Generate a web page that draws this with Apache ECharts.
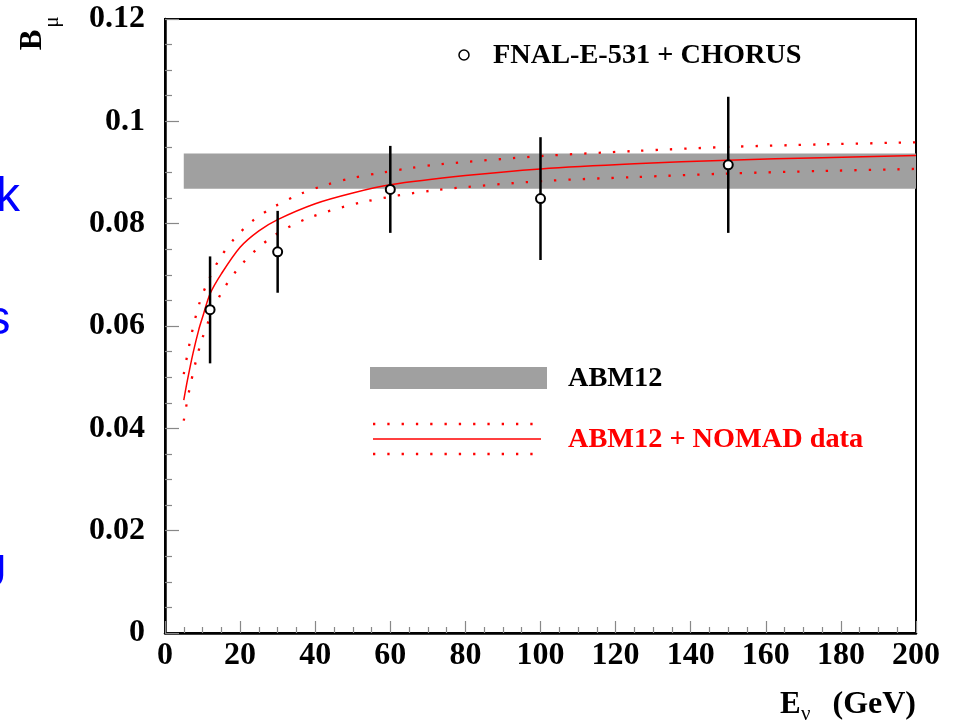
<!DOCTYPE html>
<html>
<head>
<meta charset="utf-8">
<script src="https://cdn.jsdelivr.net/npm/echarts@6/dist/echarts.min.js"></script>
<style>
html,body{margin:0;padding:0;background:#fff;}
#c{width:959px;height:722px;}
</style>
</head>
<body>
<div id="c"></div>
<script>
// ---- data ----
const xTicks = [0, 20, 40, 60, 80, 100, 120, 140, 160, 180, 200];
const yTickLabels = ['0', '0.02', '0.04', '0.06', '0.08', '0.1', '0.12'];

// ABM12 band
const bandX = [5, 200];
const bandY = [0.0868, 0.0937];

// ABM12 + NOMAD central curve
const centralX = [5, 6, 7.5, 9, 10, 12, 15, 20, 25, 30, 40, 50, 60, 80, 100, 125, 150, 175, 200];
const centralY = [0.0455, 0.0495, 0.0548, 0.0593, 0.0617, 0.0663, 0.0702, 0.0754, 0.0786, 0.0808, 0.0839, 0.0860, 0.0876, 0.0894, 0.0907, 0.0917, 0.0924, 0.0929, 0.0933];

// upper / lower uncertainty curves
const upperX = [5, 6.8, 9.1, 11.5, 14.5, 18.4, 23.4, 29.3, 36, 43, 50.3, 58, 65.6, 73, 100, 125, 150, 175, 200];
const upperY = [0.0506, 0.0575, 0.0643, 0.0688, 0.0731, 0.0770, 0.0806, 0.0834, 0.0858, 0.0876, 0.0890, 0.0900, 0.0909, 0.0916, 0.0932, 0.0942, 0.0950, 0.0955, 0.0959];
const lowerX = [5, 6.7, 9.9, 14.8, 20.6, 28.5, 38.2, 52.6, 71.5, 100, 125, 150, 175, 200];
const lowerY = [0.0415, 0.0483, 0.0575, 0.0662, 0.0722, 0.0774, 0.0811, 0.0842, 0.0865, 0.0883, 0.0891, 0.0898, 0.0903, 0.0907];

// FNAL-E-531 + CHORUS data points
const ptsX = [12, 30, 60, 100, 150];
const ptsY = [0.0632, 0.0745, 0.0867, 0.0849, 0.0915];
const ptsLo = [0.0527, 0.0665, 0.0782, 0.0729, 0.0782];
const ptsHi = [0.0736, 0.0825, 0.0952, 0.0969, 0.1048];

// ---- chart ----
const zip = (a, b) => a.map((v, i) => [v, b[i]]);
const RED = '#ff0000';
const SERIF = '"Liberation Serif", "DejaVu Serif", serif';
const SANS = '"Liberation Sans", Arial, sans-serif';

const chart = echarts.init(document.getElementById('c'), null, {renderer: 'canvas'});

const option = {
  animation: false,
  backgroundColor: '#fff',
  grid: {left: 165, right: 43, top: 19, bottom: 89, show: true, borderColor: '#000', borderWidth: 2, backgroundColor: 'transparent'},
  xAxis: {
    type: 'value', min: 0, max: 200, interval: 20,
    axisLine: {show: true, lineStyle: {color: '#000', width: 2.5}},
    axisTick: {show: true, inside: true, length: 12, lineStyle: {color: '#888', width: 1.2}},
    minorTick: {show: true, splitNumber: 4, length: 6, lineStyle: {color: '#888', width: 1.2}},
    splitLine: {show: false},
    axisLabel: {
      margin: 7, color: '#000', fontFamily: SERIF, fontWeight: 'bold', fontSize: 32,
      formatter: v => String(xTicks[Math.round(v / 20)])
    }
  },
  yAxis: {
    type: 'value', min: 0, max: 0.12, interval: 0.02,
    axisLine: {show: true, lineStyle: {color: '#000', width: 2.5}},
    axisTick: {show: true, inside: true, length: 14, lineStyle: {color: '#888', width: 1.2}},
    minorTick: {show: true, splitNumber: 4, length: 7, lineStyle: {color: '#888', width: 1.2}},
    splitLine: {show: false},
    axisLabel: {
      margin: 20, color: '#000', fontFamily: SERIF, fontWeight: 'bold', fontSize: 32,
      formatter: v => yTickLabels[Math.round(v / 0.02)]
    }
  },
  series: [
    {
      type: 'custom', name: 'ABM12', z: 1,
      data: [[bandX[0], bandX[1], bandY[0], bandY[1]]],
      renderItem: (params, api) => {
        const p0 = api.coord([api.value(0), api.value(3)]);
        const p1 = api.coord([api.value(1), api.value(2)]);
        return {type: 'rect', shape: {x: p0[0], y: p0[1], width: p1[0] - p0[0], height: p1[1] - p0[1]}, style: {fill: '#a0a0a0'}};
      }
    },
    {
      type: 'line', name: 'central', z: 3, data: zip(centralX, centralY), smooth: 0.3, showSymbol: false,
      lineStyle: {color: RED, width: 1.5}
    },
    {
      type: 'line', name: 'upper', z: 3, data: zip(upperX, upperY), smooth: 0.3, showSymbol: false,
      lineStyle: {color: RED, width: 2.3, type: [2.3, 12]}
    },
    {
      type: 'line', name: 'lower', z: 3, data: zip(lowerX, lowerY), smooth: 0.3, showSymbol: false,
      lineStyle: {color: RED, width: 2.3, type: [2.3, 12]}
    },
    {
      type: 'custom', name: 'FNAL-E-531 + CHORUS', z: 5,
      data: ptsX.map((x, i) => [x, ptsY[i], ptsLo[i], ptsHi[i]]),
      renderItem: (params, api) => {
        const c = api.coord([api.value(0), api.value(1)]);
        const lo = api.coord([api.value(0), api.value(2)]);
        const hi = api.coord([api.value(0), api.value(3)]);
        return {
          type: 'group',
          children: [
            {type: 'line', shape: {x1: lo[0], y1: lo[1], x2: hi[0], y2: hi[1]}, style: {stroke: '#000', lineWidth: 2.5}},
            {type: 'circle', shape: {cx: c[0], cy: c[1], r: 4.5}, style: {fill: '#fff', stroke: '#000', lineWidth: 2}}
          ]
        };
      }
    }
  ],
  graphic: [
    // left-edge partial slide letters
    {type: 'text', x: 20, y: 198, style: {text: 'k', font: '48px ' + SANS, fill: '#0000ff', align: 'right', verticalAlign: 'middle'}},
    {type: 'text', x: 10.5, y: 321, style: {text: 's', font: '48px ' + SANS, fill: '#0000ff', align: 'right', verticalAlign: 'middle'}},
    {type: 'text', x: 7, y: 575, style: {text: 'U', font: '48px ' + SANS, fill: '#0000ff', align: 'right', verticalAlign: 'middle'}},
    // y axis name
    {type: 'text', x: 33, y: 40, rotation: Math.PI / 2, style: {text: 'B', font: 'bold 31px ' + SERIF, fill: '#000', align: 'center', verticalAlign: 'middle'}},
    {type: 'text', x: 52, y: 22, rotation: Math.PI / 2, style: {text: 'μ', font: '21px ' + SERIF, fill: '#000', align: 'center', verticalAlign: 'middle'}},
    // x axis name
    {type: 'text', x: 780, y: 705, style: {text: 'E', font: 'bold 31px ' + SERIF, fill: '#000', align: 'left', verticalAlign: 'middle'}},
    {type: 'text', x: 801, y: 714, style: {text: 'ν', font: '21px ' + SERIF, fill: '#000', align: 'left', verticalAlign: 'middle'}},
    {type: 'text', x: 916, y: 705, style: {text: '(GeV)', font: 'bold 32px ' + SERIF, fill: '#000', align: 'right', verticalAlign: 'middle'}},
    // legend: data points
    {type: 'circle', shape: {cx: 464, cy: 55, r: 5}, style: {fill: '#fff', stroke: '#000', lineWidth: 1.5}},
    {type: 'text', x: 493, y: 56, style: {text: 'FNAL-E-531 + CHORUS', font: 'bold 28.3px ' + SERIF, fill: '#000', align: 'left', verticalAlign: 'middle'}},
    // legend: ABM12 band
    {type: 'rect', shape: {x: 370, y: 367, width: 177, height: 22}, style: {fill: '#a0a0a0'}},
    {type: 'text', x: 568, y: 379, style: {text: 'ABM12', font: 'bold 28.3px ' + SERIF, fill: '#000', align: 'left', verticalAlign: 'middle'}},
    // legend: ABM12 + NOMAD
    {type: 'line', shape: {x1: 373, y1: 424, x2: 541, y2: 424}, style: {stroke: RED, lineWidth: 2.3, lineDash: [2.3, 12]}},
    {type: 'line', shape: {x1: 373, y1: 439, x2: 541, y2: 439}, style: {stroke: RED, lineWidth: 1.3}},
    {type: 'line', shape: {x1: 373, y1: 454, x2: 541, y2: 454}, style: {stroke: RED, lineWidth: 2.3, lineDash: [2.3, 12]}},
    {type: 'text', x: 568, y: 440, style: {text: 'ABM12 + NOMAD data', font: 'bold 28.3px ' + SERIF, fill: RED, align: 'left', verticalAlign: 'middle'}}
  ]
};
chart.setOption(option);
</script>
</body>
</html>
